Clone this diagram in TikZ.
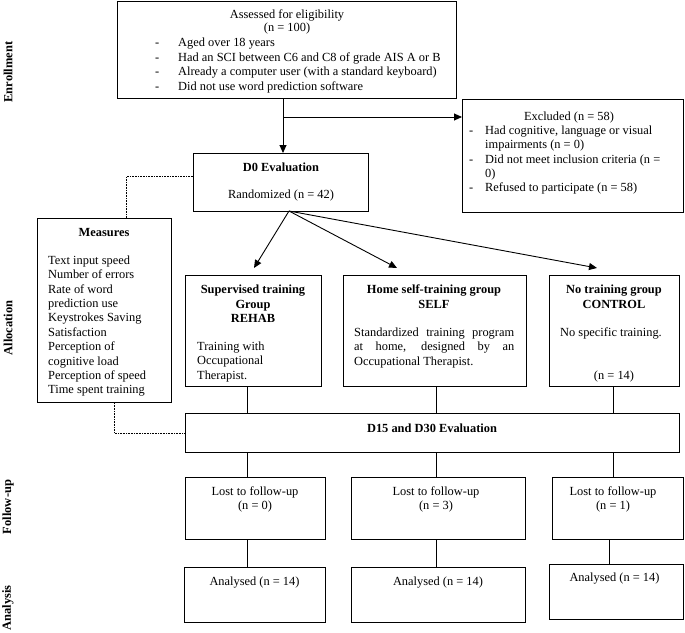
\documentclass[tikz,border=0pt]{standalone}
\usepackage{fontspec}
\setmainfont{Liberation Serif}
\usetikzlibrary{arrows.meta,calc}
\begin{document}
\begin{tikzpicture}[x=1pt,y=-1pt,
  box/.style={draw,line width=0.9pt,anchor=north west,inner sep=0pt},
  txt/.style={inner sep=0pt,font=\fontsize{12.4}{14.4}\selectfont},
  btxt/.style={inner sep=0pt,font=\fontsize{12.4}{14.4}\selectfont\bfseries},
  side/.style={inner sep=0pt,rotate=90,font=\fontsize{12.5}{14}\selectfont\bfseries},
  ml/.style={txt,align=left,anchor=north west},
  arr/.style={line width=0.9pt,-{Triangle[length=8pt,width=7pt]}},
  con/.style={line width=0.9pt},
  dot/.style={line width=0.6pt,densely dotted}
]
\useasboundingbox (0,0) rectangle (685,632);
\newcommand{\dsh}[1]{\makebox[#1][l]{-}}
% side labels
\node[side] (sEnr) at (8,72) {Enrollment};
\node[side] (sAll) at (8,328) {Allocation};
\node[side] (sFol) at (8,507) {Follow-up};
\node[side] (sAna) at (8,608) {Analysis};
% boxes
\node[box,minimum width=339pt,minimum height=97pt] (top) at (117,1) {};
\node[box,minimum width=221pt,minimum height=113pt] (excl) at (462,99) {};
\node[box,minimum width=175pt,minimum height=58pt] (d0) at (193,153) {};
\node[box,minimum width=134pt,minimum height=184pt] (meas) at (37,218) {};
\node[box,minimum width=136pt,minimum height=111pt] (rehab) at (185,275) {};
\node[box,minimum width=183pt,minimum height=111pt] (self) at (343,275) {};
\node[box,minimum width=130pt,minimum height=111pt] (ctrl) at (549,275) {};
\node[box,minimum width=494pt,minimum height=39pt] (d15) at (185,413) {};
\node[box,minimum width=140pt,minimum height=62pt] (l1) at (185,477) {};
\node[box,minimum width=174pt,minimum height=62pt] (l2) at (351,477) {};
\node[box,minimum width=131pt,minimum height=62pt] (l3) at (552,477) {};
\node[box,minimum width=141pt,minimum height=55pt] (a1) at (184,567) {};
\node[box,minimum width=174pt,minimum height=55pt] (a2) at (351,567) {};
\node[box,minimum width=134pt,minimum height=55pt] (a3) at (549,564) {};
% texts
\node[txt] (topT1) at (287,15) {Assessed for eligibility};
\node[txt] (topT2) at (287,29) {(n = 100)};
\node[ml] (topT3) at (155,38) {\dsh{23pt}Aged over 18 years\\
\dsh{23pt}Had an SCI between C6 and C8 of grade AIS A or B\\
\dsh{23pt}Already a computer user (with a standard keyboard)\\
\dsh{23pt}Did not use word prediction software};
\node[txt] (exT1) at (569,118) {Excluded (n = 58)};
\node[ml] (exT2) at (469,125.5) {\dsh{16pt}Had cognitive, language or visual\\
\hspace*{16pt}impairments (n = 0)\\
\dsh{16pt}Did not meet inclusion criteria (n =\\
\hspace*{16pt}0)\\
\dsh{16pt}Refused to participate (n = 58)};
\node[btxt] (d0T1) at (281,167) {D0 Evaluation};
\node[txt] (d0T2) at (281,196) {Randomized (n = 42)};
\node[btxt] (msT1) at (104,233) {Measures};
\node[ml] (msT2) at (48,255.5) {Text input speed\\Number of errors\\Rate of word\\prediction use\\Keystrokes Saving\\Satisfaction\\Perception of\\cognitive load\\Perception of speed\\Time spent training};
\node[btxt,align=center,anchor=north] (reT1) at (253,285) {Supervised training\\Group\\REHAB};
\node[ml] (reT2) at (197,341.5) {Training with\\Occupational\\Therapist.};
\node[btxt,align=center,anchor=north] (seT1) at (434,285) {Home self-training group\\SELF};
\node[ml] (seT2) at (354,327.5) {\makebox[160pt][s]{Standardized training program}\\\makebox[160pt][s]{at home, designed by an}\\Occupational Therapist.};
\node[btxt,align=center,anchor=north] (ctT1) at (614,285) {No training group\\CONTROL};
\node[txt,anchor=west] (ctT2) at (560,333) {No specific training.};
\node[txt] (ctT3) at (614,377) {(n = 14)};
\node[btxt] (d15T) at (432,428) {D15 and D30 Evaluation};
\node[txt,align=center,anchor=north] (l1T) at (255,486.5) {Lost to follow-up\\(n = 0)};
\node[txt,align=center,anchor=north] (l2T) at (436,486.5) {Lost to follow-up\\(n = 3)};
\node[txt,align=center,anchor=north] (l3T) at (613,486.5) {Lost to follow-up\\(n = 1)};
\node[txt] (a1T) at (254.5,583) {Analysed (n = 14)};
\node[txt] (a2T) at (438,583) {Analysed (n = 14)};
\node[txt] (a3T) at (614.5,579) {Analysed (n = 14)};
% connectors
\coordinate (j0) at (283,117);
\draw[arr] (j0 |- top.south) -- (j0 |- d0.north);
\draw[arr] (j0) -- (j0 -| excl.west);
\coordinate (r0) at (289,211);
\coordinate (t1) at (254,268);
\coordinate (t2) at (397,268);
\coordinate (t3) at (597,268);
\draw[arr] (r0) -- (t1);
\draw[arr] (r0) -- (t2);
\draw[arr] (r0) -- (t3);
\draw[dot] ([yshift=6pt]d0.west) -| ([xshift=22pt]meas.north);
\draw[dot] ([xshift=10pt]meas.south) |- (d15.west);
\coordinate (v1) at (247,0);
\coordinate (v2) at (436,0);
\coordinate (v3) at (613,0);
\coordinate (v4) at (609,0);
\draw[con] (v1 |- rehab.south) -- (v1 |- d15.north);
\draw[con] (v2 |- self.south) -- (v2 |- d15.north);
\draw[con] (v3 |- ctrl.south) -- (v3 |- d15.north);
\draw[con] (v1 |- d15.south) -- (v1 |- l1.north);
\draw[con] (v2 |- d15.south) -- (v2 |- l2.north);
\draw[con] (v3 |- d15.south) -- (v3 |- l3.north);
\draw[con] (v1 |- l1.south) -- (v1 |- a1.north);
\draw[con] (v2 |- l2.south) -- (v2 |- a2.north);
\draw[con] (v4 |- l3.south) -- (v4 |- a3.north);
\end{tikzpicture}
\end{document}
